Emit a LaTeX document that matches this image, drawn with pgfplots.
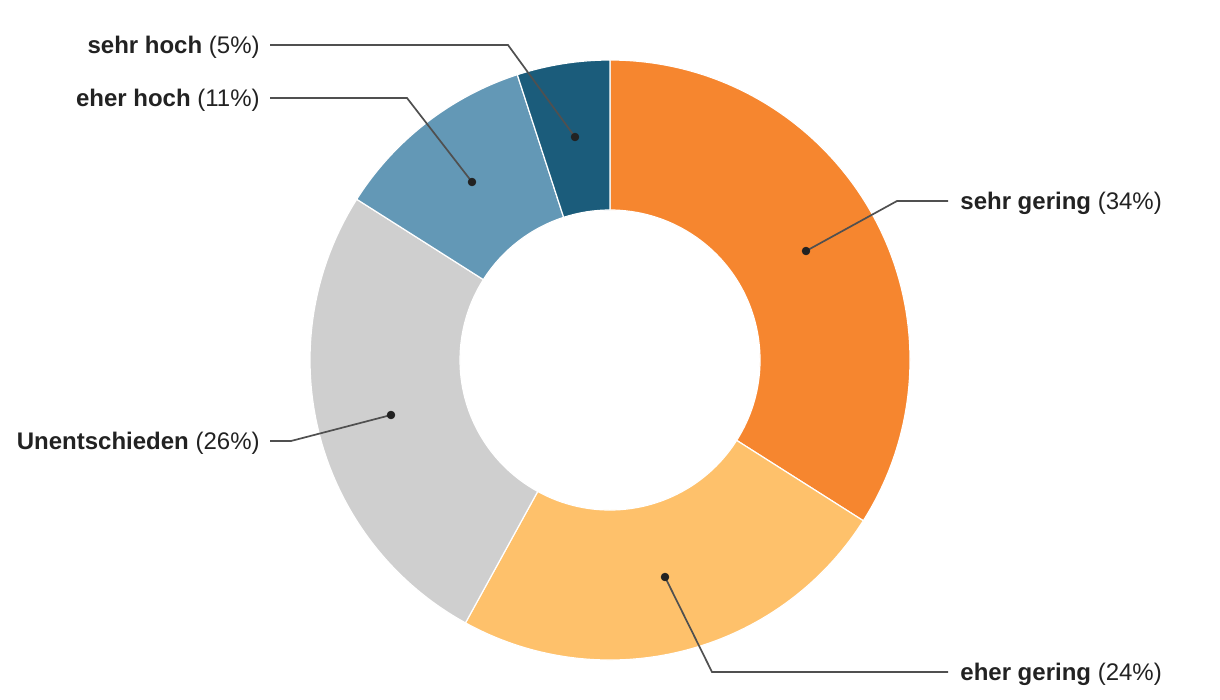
\documentclass[border=0pt]{standalone}
\usepackage{pgfplots}
\pgfplotsset{compat=1.18}
\usepackage{fontspec}
\setmainfont{Liberation Sans}
\definecolor{c1}{HTML}{F6862F}
\definecolor{c2}{HTML}{FEC16B}
\definecolor{c3}{HTML}{CFCFCF}
\definecolor{c4}{HTML}{6398B6}
\definecolor{c5}{HTML}{1B5C7B}
\definecolor{txt}{HTML}{222222}
\definecolor{ln}{HTML}{505050}
% shares in percent, clockwise from 12 o'clock
\def\vA{34}\def\vB{24}\def\vC{26}\def\vD{11}\def\vE{5}
\pgfmathsetmacro\aO{90}
\pgfmathsetmacro\aA{\aO-3.6*\vA}
\pgfmathsetmacro\aB{\aA-3.6*\vB}
\pgfmathsetmacro\aC{\aB-3.6*\vC}
\pgfmathsetmacro\aD{\aC-3.6*\vD}
\pgfmathsetmacro\aE{\aD-3.6*\vE}
\newcommand\ringwedge[3]{%
  \fill[#3,draw=white,line width=0.6pt] (#1:150pt) arc[start angle=#1,end angle=#2,radius=150pt]
    -- (#2:75pt) arc[start angle=#2,end angle=#1,radius=75pt] -- cycle;}
\begin{document}
\begin{tikzpicture}
\begin{axis}[
  width=610pt, height=350pt, scale only axis,
  xmin=0, xmax=1220, ymin=0, ymax=700, y dir=reverse,
  hide axis, clip=false]
\addplot[draw=none] coordinates {(0,0) (1220,700)};
\begin{scope}[shift={(axis cs:610,360)}]
  \ringwedge{\aO}{\aA}{c1}
  \ringwedge{\aA}{\aB}{c2}
  \ringwedge{\aB}{\aC}{c3}
  \ringwedge{\aC}{\aD}{c4}
  \ringwedge{\aD}{\aE}{c5}
\end{scope}
% leader lines
\addplot[ln, line width=0.85pt] coordinates {(806,251) (897,201) (948,201)};
\addplot[ln, line width=0.85pt] coordinates {(665,577) (712,672) (948,672)};
\addplot[ln, line width=0.85pt] coordinates {(391,415) (291,441) (270,441)};
\addplot[ln, line width=0.85pt] coordinates {(472,182) (407,98) (270,98)};
\addplot[ln, line width=0.85pt] coordinates {(575,137) (508,45) (270,45)};
\addplot[only marks, mark=*, mark size=1.9pt, color=txt] coordinates {
  (806,251) (665,577) (391,415) (472,182) (575,137)};
\begin{scope}[font=\fontsize{12}{14}\selectfont, text=txt]
\node[anchor=west,inner sep=0pt,yshift=-1.2pt] at (axis cs:960,201) {\textbf{sehr gering} (34\%)};
\node[anchor=west,inner sep=0pt,yshift=-1.2pt] at (axis cs:960,672) {\textbf{eher gering} (24\%)};
\node[anchor=east,inner sep=0pt,yshift=-1.2pt] at (axis cs:260,441) {\textbf{Unentschieden} (26\%)};
\node[anchor=east,inner sep=0pt,yshift=-1.2pt] at (axis cs:260,98) {\textbf{eher hoch} (11\%)};
\node[anchor=east,inner sep=0pt,yshift=-1.2pt] at (axis cs:260,45) {\textbf{sehr hoch} (5\%)};
\end{scope}
\end{axis}
\end{tikzpicture}
\end{document}
